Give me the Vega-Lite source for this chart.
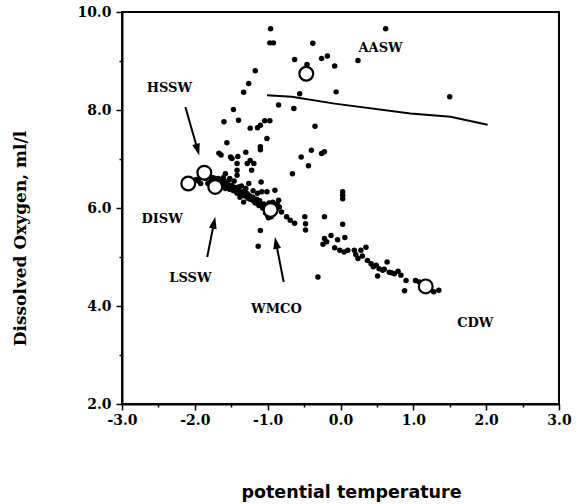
{
  "$schema": "https://vega.github.io/schema/vega-lite/v6.json",
  "width": 437,
  "height": 392,
  "autosize": "none",
  "padding": {"left": 122, "top": 12, "right": 19, "bottom": 100},
  "background": "white",
  "config": {
    "view": {"stroke": "black", "strokeWidth": 2},
    "axis": {
      "domainColor": "black", "domainWidth": 2, "tickColor": "black", "tickWidth": 1.5,
      "labelColor": "black", "titleColor": "black", "grid": false,
      "labelFont": "DejaVu Serif", "labelFontWeight": "bold", "labelFontSize": 14,
      "labelFlush": false, "labelOverlap": false
    }
  },
  "datasets": {
    "dots": [
      {"t": -0.96, "o": 9.66}, {"t": -0.97, "o": 9.37}, {"t": -0.92, "o": 9.37}, {"t": -0.38, "o": 9.36},
      {"t": 0.62, "o": 9.66}, {"t": -0.63, "o": 9.03}, {"t": -0.26, "o": 9.05}, {"t": -0.18, "o": 9.10},
      {"t": -0.08, "o": 8.90}, {"t": 0.24, "o": 9.01}, {"t": -0.46, "o": 8.93}, {"t": -1.17, "o": 8.80},
      {"t": -1.26, "o": 8.54}, {"t": -1.33, "o": 8.36}, {"t": -0.06, "o": 8.37}, {"t": -0.56, "o": 8.33},
      {"t": 1.50, "o": 8.27}, {"t": -0.85, "o": 8.10}, {"t": -0.64, "o": 8.03}, {"t": -1.47, "o": 8.01},
      {"t": -1.60, "o": 7.76}, {"t": -1.40, "o": 7.79}, {"t": -1.24, "o": 7.63}, {"t": -1.14, "o": 7.64},
      {"t": -1.10, "o": 7.69}, {"t": -1.04, "o": 7.78}, {"t": -0.97, "o": 7.78}, {"t": -0.35, "o": 7.67},
      {"t": -1.56, "o": 7.33}, {"t": -1.01, "o": 7.42}, {"t": -1.10, "o": 7.25}, {"t": -1.10, "o": 7.19},
      {"t": -1.67, "o": 7.12}, {"t": -1.64, "o": 7.08}, {"t": -1.51, "o": 7.04}, {"t": -1.41, "o": 7.05},
      {"t": -1.30, "o": 7.14}, {"t": -1.24, "o": 6.97}, {"t": -1.19, "o": 6.91}, {"t": -0.54, "o": 7.04},
      {"t": -0.40, "o": 7.18}, {"t": -0.26, "o": 7.11}, {"t": -0.22, "o": 7.15}, {"t": -0.44, "o": 6.86},
      {"t": -0.66, "o": 6.70}, {"t": 0.03, "o": 6.33}, {"t": 0.03, "o": 6.26}, {"t": 0.03, "o": 6.19},
      {"t": -1.28, "o": 6.91}, {"t": -1.22, "o": 6.77}, {"t": -1.49, "o": 7.01}, {"t": -1.42, "o": 6.91},
      {"t": -1.42, "o": 6.77}, {"t": -1.42, "o": 6.67}, {"t": -1.09, "o": 6.53}, {"t": -1.58, "o": 6.70},
      {"t": -1.53, "o": 6.57}, {"t": -1.49, "o": 6.46}, {"t": -1.26, "o": 6.50}, {"t": -1.40, "o": 6.43},
      {"t": -1.35, "o": 6.33}, {"t": -1.28, "o": 6.29}, {"t": -1.22, "o": 6.22}, {"t": -1.17, "o": 6.16},
      {"t": -1.10, "o": 6.09}, {"t": -1.08, "o": 6.33}, {"t": -1.01, "o": 6.33}, {"t": -0.90, "o": 6.36},
      {"t": -0.85, "o": 6.16}, {"t": -0.81, "o": 5.92}, {"t": -0.74, "o": 5.82}, {"t": -0.69, "o": 5.75},
      {"t": -1.10, "o": 5.54}, {"t": -1.13, "o": 5.22}, {"t": -1.38, "o": 6.22}, {"t": -1.33, "o": 6.12},
      {"t": -1.95, "o": 6.55}, {"t": -1.92, "o": 6.50}, {"t": -1.85, "o": 6.60}, {"t": -1.82, "o": 6.50},
      {"t": -1.78, "o": 6.55}, {"t": -1.75, "o": 6.62}, {"t": -1.70, "o": 6.55}, {"t": -1.68, "o": 6.60},
      {"t": -1.65, "o": 6.50}, {"t": -1.62, "o": 6.45}, {"t": -1.60, "o": 6.55}, {"t": -1.58, "o": 6.40},
      {"t": -1.55, "o": 6.48}, {"t": -1.52, "o": 6.38}, {"t": -1.50, "o": 6.45}, {"t": -1.47, "o": 6.35},
      {"t": -1.45, "o": 6.42}, {"t": -1.42, "o": 6.30}, {"t": -1.40, "o": 6.38}, {"t": -1.37, "o": 6.28},
      {"t": -1.32, "o": 6.25}, {"t": -1.30, "o": 6.30}, {"t": -1.27, "o": 6.20}, {"t": -1.25, "o": 6.25},
      {"t": -1.20, "o": 6.22}, {"t": -1.17, "o": 6.10}, {"t": -1.15, "o": 6.18}, {"t": -1.12, "o": 6.05},
      {"t": -1.07, "o": 6.00}, {"t": -1.05, "o": 6.08}, {"t": -1.02, "o": 5.95}, {"t": -0.90, "o": 6.05},
      {"t": -0.88, "o": 5.98}, {"t": -0.92, "o": 5.88}, {"t": -1.00, "o": 5.85}, {"t": -0.95, "o": 5.82},
      {"t": -1.98, "o": 6.58}, {"t": -1.90, "o": 6.62}, {"t": -1.80, "o": 6.65}, {"t": -1.77, "o": 6.48},
      {"t": -1.72, "o": 6.60}, {"t": -1.66, "o": 6.42}, {"t": -1.63, "o": 6.58}, {"t": -1.57, "o": 6.50},
      {"t": -1.54, "o": 6.42}, {"t": -1.48, "o": 6.40}, {"t": -1.44, "o": 6.35}, {"t": -1.38, "o": 6.32},
      {"t": -1.34, "o": 6.28}, {"t": -1.29, "o": 6.24}, {"t": -1.24, "o": 6.18}, {"t": -1.19, "o": 6.14},
      {"t": -1.14, "o": 6.12}, {"t": -1.11, "o": 6.15}, {"t": -1.06, "o": 6.05}, {"t": -1.04, "o": 6.02},
      {"t": -0.98, "o": 6.10}, {"t": -0.93, "o": 6.12}, {"t": -0.87, "o": 6.08}, {"t": -0.84, "o": 6.02},
      {"t": -0.90, "o": 5.92}, {"t": -1.03, "o": 5.90}, {"t": -0.99, "o": 5.80}, {"t": -1.61, "o": 6.62},
      {"t": -1.52, "o": 6.60}, {"t": -1.46, "o": 6.55}, {"t": -1.36, "o": 6.45}, {"t": -1.30, "o": 6.40},
      {"t": -1.20, "o": 6.35}, {"t": -1.14, "o": 6.30},
      {"t": -0.63, "o": 5.69}, {"t": -0.49, "o": 5.82}, {"t": -0.48, "o": 5.68}, {"t": -0.48, "o": 5.55},
      {"t": -0.22, "o": 5.82}, {"t": 0.03, "o": 5.67}, {"t": -0.31, "o": 4.59}, {"t": -0.22, "o": 5.38},
      {"t": -0.13, "o": 5.44}, {"t": -0.04, "o": 5.35}, {"t": 0.06, "o": 5.40}, {"t": -0.24, "o": 5.26},
      {"t": -0.19, "o": 5.31}, {"t": -0.08, "o": 5.19}, {"t": -0.01, "o": 5.14}, {"t": 0.05, "o": 5.10},
      {"t": 0.10, "o": 5.14}, {"t": 0.19, "o": 5.14}, {"t": 0.24, "o": 4.97}, {"t": 0.28, "o": 5.14},
      {"t": 0.35, "o": 5.20}, {"t": 0.37, "o": 4.93}, {"t": 0.42, "o": 4.86}, {"t": 0.49, "o": 4.83},
      {"t": 0.53, "o": 4.76}, {"t": 0.58, "o": 4.73}, {"t": 0.64, "o": 4.90}, {"t": 0.51, "o": 4.61},
      {"t": 0.67, "o": 4.69}, {"t": 0.74, "o": 4.66}, {"t": 0.79, "o": 4.71}, {"t": 0.83, "o": 4.63},
      {"t": 0.90, "o": 4.52}, {"t": 1.03, "o": 4.52}, {"t": 1.08, "o": 4.49}, {"t": 0.88, "o": 4.31},
      {"t": 1.35, "o": 4.32}, {"t": 1.28, "o": 4.29}, {"t": 0.21, "o": 5.05}, {"t": 0.30, "o": 5.02},
      {"t": 0.45, "o": 4.80}, {"t": 0.60, "o": 4.75}, {"t": 0.70, "o": 4.68}
    ],
    "circles": [
      {"t": -2.09, "o": 6.50}, {"t": -1.87, "o": 6.72}, {"t": -1.72, "o": 6.43},
      {"t": -0.96, "o": 5.96}, {"t": -0.47, "o": 8.74}, {"t": 1.17, "o": 4.40}
    ],
    "line": [
      {"t": -1.01, "o": 8.30}, {"t": -0.67, "o": 8.27}, {"t": -0.08, "o": 8.13},
      {"t": 0.96, "o": 7.93}, {"t": 1.51, "o": 7.86}, {"t": 2.02, "o": 7.70}
    ],
    "labels": [
      {"label": "AASW", "t": 0.55, "o": 9.26}, {"label": "HSSW", "t": -2.35, "o": 8.44},
      {"label": "DISW", "t": -2.45, "o": 5.78}, {"label": "LSSW", "t": -2.06, "o": 4.58},
      {"label": "WMCO", "t": -0.88, "o": 3.93}, {"label": "CDW", "t": 1.85, "o": 3.65}
    ],
    "arrows": [
      {"name": "HSSW", "t": -2.13, "o": 8.06, "t2": -1.962, "o2": 7.188},
      {"name": "LSSW", "t": -1.83, "o": 5.00, "t2": -1.737, "o2": 5.70},
      {"name": "WMCO", "t": -0.78, "o": 4.49, "t2": -0.885, "o2": 5.29}
    ]
  },
  "encoding": {
    "x": {
      "field": "t", "type": "quantitative",
      "scale": {"domain": [-3, 3], "nice": false, "zero": false},
      "axis": {
        "values": [-3, -2.5, -2, -1.5, -1, -0.5, 0, 0.5, 1, 1.5, 2, 2.5, 3],
        "labelExpr": "datum.value % 1 === 0 ? replace(format(datum.value, '.1f'), '\u2212', '-') : ''",
        "tickSize": {"condition": {"test": "datum.value % 1 !== 0", "value": 3}, "value": 6},
        "labelPadding": 3,
        "title": "potential temperature",
        "titleFont": "DejaVu Sans", "titleFontSize": 17.5, "titleFontWeight": "bold",
        "titleX": 229, "titleY": 93, "titleBaseline": "alphabetic", "titleAlign": "center"
      }
    },
    "y": {
      "field": "o", "type": "quantitative",
      "scale": {"domain": [2, 10], "nice": false, "zero": false},
      "axis": {
        "values": [2, 3, 4, 5, 6, 7, 8, 9, 10],
        "labelExpr": "datum.value % 2 === 0 ? format(datum.value, '.1f') : ''",
        "tickSize": {"condition": {"test": "datum.value % 2 !== 0", "value": 3}, "value": 6},
        "labelPadding": 5,
        "title": "Dissolved Oxygen, ml/l",
        "titleFont": "DejaVu Serif", "titleFontSize": 17, "titleFontWeight": "bold",
        "titleX": -102, "titleY": 226, "titleBaseline": "middle", "titleAlign": "center", "titleAngle": -90
      }
    }
  },
  "layer": [
    {"data": {"name": "line"}, "mark": {"type": "line", "color": "black", "strokeWidth": 2}},
    {"data": {"name": "dots"}, "mark": {"type": "circle", "color": "black", "opacity": 1, "size": 30}},
    {"data": {"name": "circles"}, "mark": {"type": "point", "shape": "circle", "filled": true, "fill": "white", "stroke": "black", "strokeWidth": 2.2, "opacity": 1, "size": 190}},
    {"data": {"name": "arrows"}, "mark": {"type": "rule", "color": "black", "strokeWidth": 2},
     "encoding": {"x2": {"field": "t2"}, "y2": {"field": "o2"}}},
    {"data": {"name": "arrows"}, "transform": [{"filter": "datum.name === 'HSSW'"}],
     "mark": {"type": "point", "shape": "M0,-1L0.65,1L-0.65,1Z", "filled": true, "color": "black", "opacity": 1, "size": 144, "angle": 164.5},
     "encoding": {"x": {"field": "t2", "type": "quantitative"}, "y": {"field": "o2", "type": "quantitative"}}},
    {"data": {"name": "arrows"}, "transform": [{"filter": "datum.name === 'LSSW'"}],
     "mark": {"type": "point", "shape": "M0,-1L0.65,1L-0.65,1Z", "filled": true, "color": "black", "opacity": 1, "size": 144, "angle": 11.7},
     "encoding": {"x": {"field": "t2", "type": "quantitative"}, "y": {"field": "o2", "type": "quantitative"}}},
    {"data": {"name": "arrows"}, "transform": [{"filter": "datum.name === 'WMCO'"}],
     "mark": {"type": "point", "shape": "M0,-1L0.65,1L-0.65,1Z", "filled": true, "color": "black", "opacity": 1, "size": 144, "angle": 349.5},
     "encoding": {"x": {"field": "t2", "type": "quantitative"}, "y": {"field": "o2", "type": "quantitative"}}},
    {"data": {"name": "labels"}, "mark": {"type": "text", "font": "DejaVu Serif", "fontWeight": "bold", "fontSize": 13, "color": "black", "align": "center", "baseline": "middle"},
     "encoding": {"text": {"field": "label"}}}
  ]
}
